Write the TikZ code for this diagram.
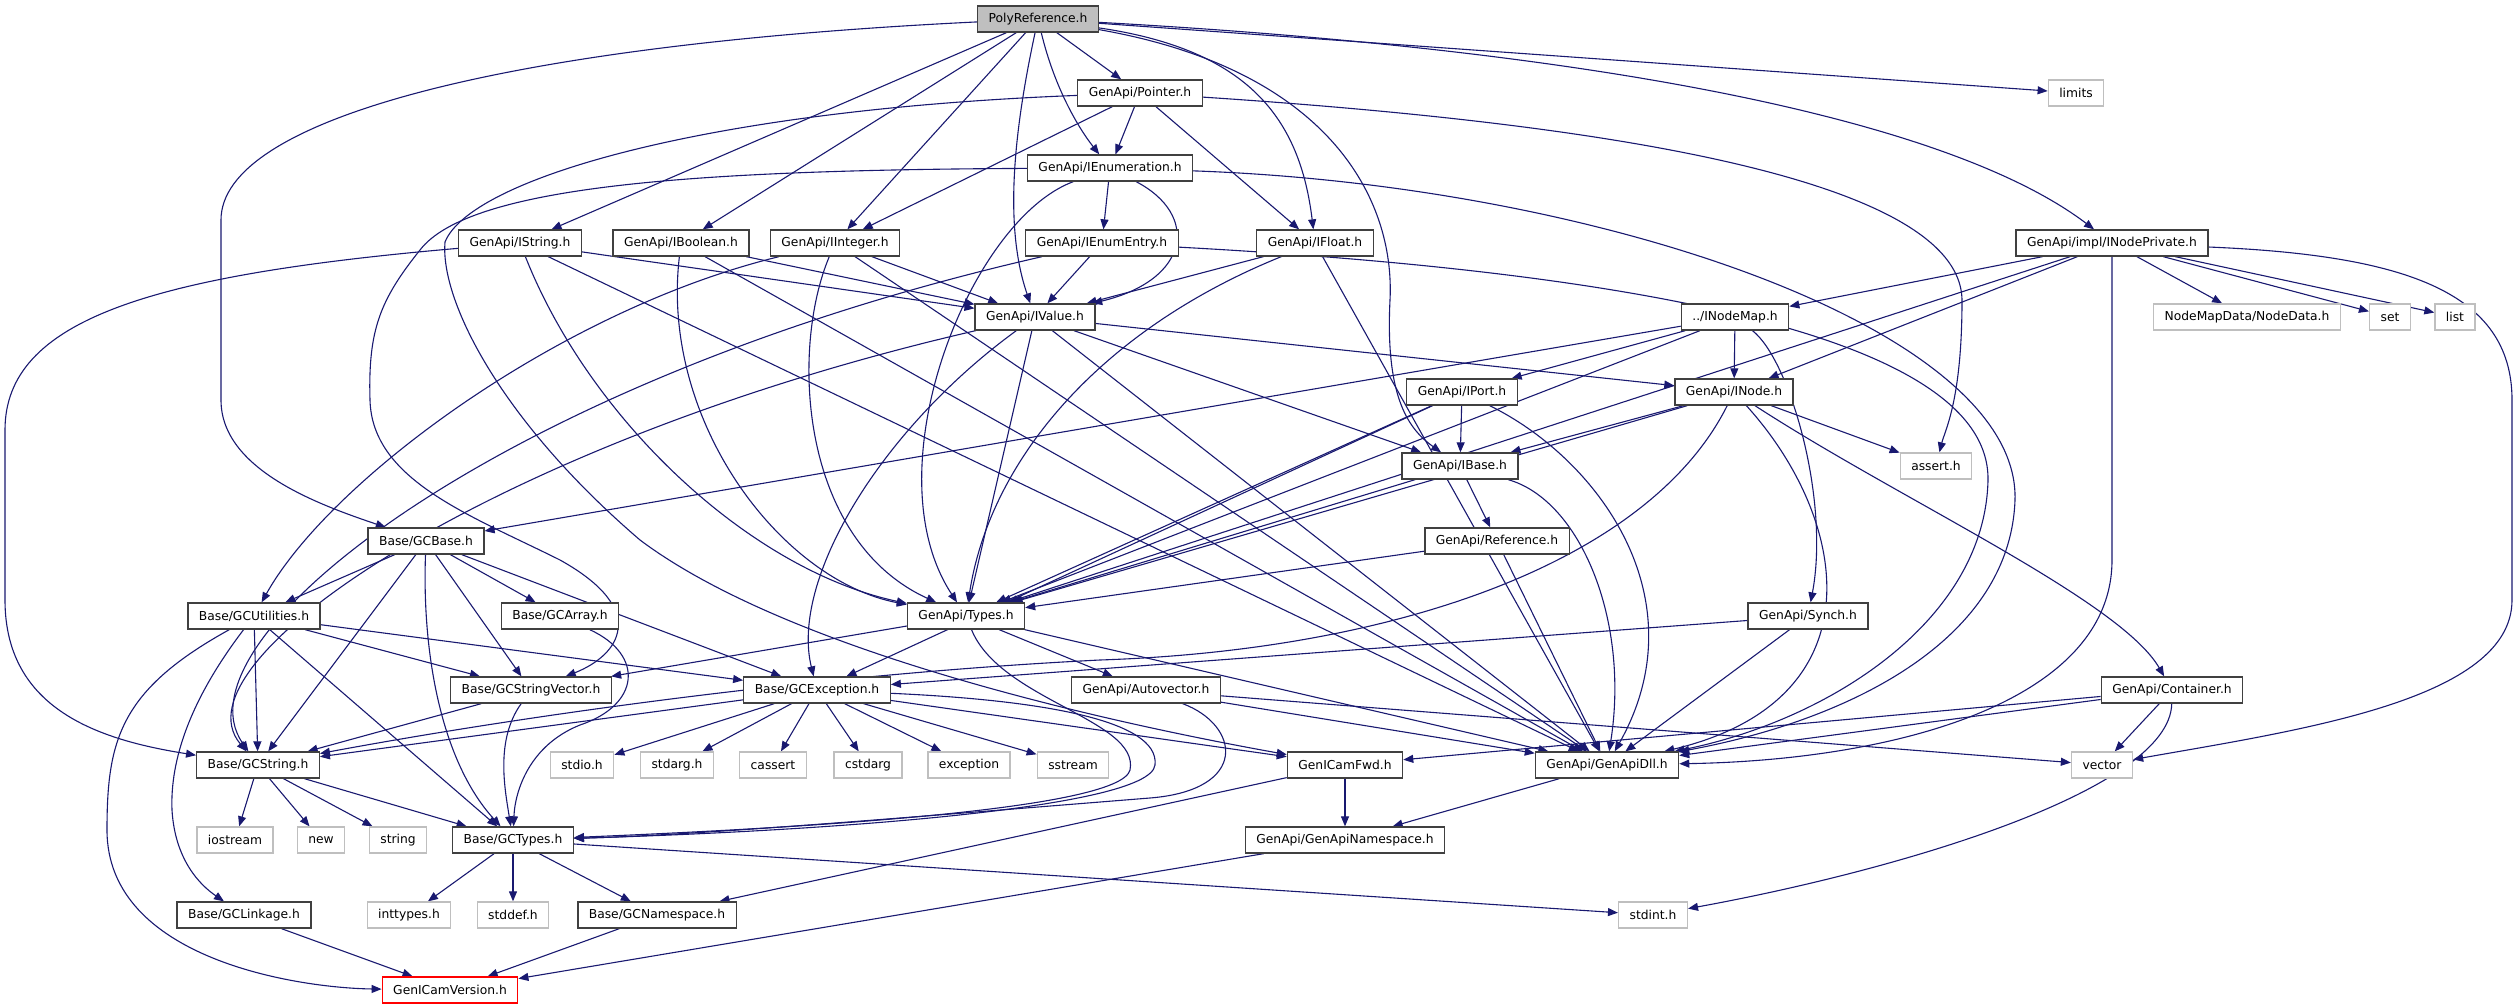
\documentclass[tikz,border=0pt]{standalone}
\usepackage{fontspec}
\setmainfont{DejaVu Sans}
\definecolor{dgEdge}{HTML}{191970}
\definecolor{dgBorder}{HTML}{404040}
\definecolor{dgSys}{HTML}{BFBFBF}
\definecolor{dgRoot}{HTML}{BFBFBF}
\usetikzlibrary{arrows.meta, backgrounds}

\begin{document}
\begin{tikzpicture}[x=1pt, y=-1pt,
  every node/.style={font=\fontsize{12.3}{14}\selectfont, align=center},
  hbox/.style={rectangle, draw=dgBorder, fill=white, line width=1.3pt,
               minimum height=26pt, inner xsep=11pt, inner ysep=0pt},
  sbox/.style={hbox, draw=dgSys},
  rbox/.style={hbox, fill=dgRoot},
  vbox/.style={hbox, draw=red},
  arr/.style={-{Triangle[length=10pt, width=8pt]}, line width=1.1pt, color=dgEdge}
]
  \useasboundingbox (0,0) rectangle (2519,1008);

  \node[rbox] (poly)       at (1038,19)  {PolyReference.h};
  \node[hbox] (pointer)    at (1140,93)  {GenApi/Pointer.h};
  \node[sbox] (limits)     at (2076,93)  {limits};
  \node[hbox] (ienum)      at (1110,168) {GenApi/IEnumeration.h};
  \node[hbox] (istring)    at (520,243)  {GenApi/IString.h};
  \node[hbox] (ibool)      at (681,243)  {GenApi/IBoolean.h};
  \node[hbox] (iint)       at (835,243)  {GenApi/IInteger.h};
  \node[hbox] (ienumentry) at (1102,243) {GenApi/IEnumEntry.h};
  \node[hbox] (ifloat)     at (1315,243) {GenApi/IFloat.h};
  \node[hbox] (inodepriv)  at (2112,243) {GenApi/impl/INodePrivate.h};
  \node[hbox] (ivalue)     at (1035,317) {GenApi/IValue.h};
  \node[hbox] (inodemap)   at (1735,317) {../INodeMap.h};
  \node[sbox] (nodedata)   at (2247,317) {NodeMapData/NodeData.h};
  \node[sbox] (set)        at (2390,317) {set};
  \node[sbox] (list)       at (2455,317) {list};
  \node[hbox] (iport)      at (1462,392) {GenApi/IPort.h};
  \node[hbox] (inode)      at (1734,392) {GenApi/INode.h};
  \node[hbox] (ibase)      at (1460,466) {GenApi/IBase.h};
  \node[sbox] (assert)     at (1936,466) {assert.h};
  \node[hbox] (gcbase)     at (426,541)  {Base/GCBase.h};
  \node[hbox] (reference)  at (1497,541) {GenApi/Reference.h};
  \node[hbox] (gcutil)     at (254,616)  {Base/GCUtilities.h};
  \node[hbox] (gcarray)    at (560,616)  {Base/GCArray.h};
  \node[hbox] (types)      at (966,616)  {GenApi/Types.h};
  \node[hbox] (synch)      at (1808,616) {GenApi/Synch.h};
  \node[hbox] (gcstrvec)   at (531,690)  {Base/GCStringVector.h};
  \node[hbox] (gcexc)      at (817,690)  {Base/GCException.h};
  \node[hbox] (autovec)    at (1146,690) {GenApi/Autovector.h};
  \node[hbox] (container)  at (2172,690) {GenApi/Container.h};
  \node[hbox] (gcstring)   at (258,765)  {Base/GCString.h};
  \node[sbox] (stdio)      at (582,765)  {stdio.h};
  \node[sbox] (stdarg)     at (677,765)  {stdarg.h};
  \node[sbox] (cassert)    at (773,765)  {cassert};
  \node[sbox] (cstdarg)    at (868,765)  {cstdarg};
  \node[sbox] (exception)  at (969,765)  {exception};
  \node[sbox] (sstream)    at (1073,765) {sstream};
  \node[hbox] (fwd)        at (1345,765) {GenICamFwd.h};
  \node[hbox] (dll)        at (1607,765) {GenApi/GenApiDll.h};
  \node[sbox] (vector)     at (2102,765) {vector};
  \node[sbox] (iostream)   at (235,840)  {iostream};
  \node[sbox] (new)        at (321,840)  {new};
  \node[sbox] (string)     at (398,840)  {string};
  \node[hbox] (gctypes)    at (513,840)  {Base/GCTypes.h};
  \node[hbox] (gans)       at (1345,840) {GenApi/GenApiNamespace.h};
  \node[hbox] (gclinkage)  at (244,915)  {Base/GCLinkage.h};
  \node[sbox] (inttypes)   at (409,915)  {inttypes.h};
  \node[sbox] (stddef)     at (513,915)  {stddef.h};
  \node[hbox] (gcns)       at (657,915)  {Base/GCNamespace.h};
  \node[sbox] (stdint)     at (1653,915) {stdint.h};
  \node[vbox] (version)    at (450,990)  {GenICamVersion.h};

  \begin{scope}[on background layer]
  \draw[arr] (poly) .. controls (500,45) and (221,120) .. (221,220) -- (221,400) .. controls (221,470) and (320,505) .. (gcbase);
  \draw[arr] (poly) -- (istring);
  \draw[arr] (poly) -- (ibool);
  \draw[arr] (poly) -- (iint);
  \draw[arr] (poly) .. controls (1012,140) and (1005,230) .. (ivalue);
  \draw[arr] (poly) .. controls (1055,90) and (1080,130) .. (ienum);
  \draw[arr] (poly) -- (pointer);
  \draw[arr] (poly) -- (limits);
  \draw[arr] (poly) .. controls (1250,50) and (1300,120) .. (ifloat);
  \draw[arr] (poly) .. controls (1330,70) and (1395,200) .. (1390,300) .. controls (1385,400) and (1410,430) .. (ibase);
  \draw[arr] (poly) .. controls (1600,50) and (1950,120) .. (inodepriv);

  \draw[arr] (pointer) -- (ienum);
  \draw[arr] (pointer) -- (iint);
  \draw[arr] (pointer) -- (ifloat);
  \draw[arr] (pointer) .. controls (1550,120) and (1960,170) .. (1962,300) .. controls (1962,400) and (1945,430) .. (assert);
  \draw[arr] (pointer) .. controls (700,110) and (470,180) .. (445,242) .. controls (440,300) and (500,420) .. (640,540) .. controls (800,660) and (1150,730) .. (fwd);

  \draw[arr] (ienum) -- (ienumentry);
  \draw[arr] (ienum) .. controls (1200,215) and (1190,280) .. (ivalue);
  \draw[arr] (ienum) .. controls (970,220) and (870,470) .. (types);
  \draw[arr] (ienum) .. controls (1600,185) and (2020,330) .. (2015,500) .. controls (2010,640) and (1850,720) .. (dll);
  \draw[arr] (ienum) .. controls (700,170) and (470,185) .. (420,250) .. controls (380,300) and (368,330) .. (370,400) .. controls (372,480) and (470,515) .. (560,560) .. controls (650,610) and (620,655) .. (gcstrvec);

  \draw[arr] (istring) .. controls (150,275) and (5,320) .. (5,430) -- (5,600) .. controls (5,710) and (100,740) .. (gcstring);
  \draw[arr] (istring) .. controls (590,420) and (750,570) .. (types);
  \draw[arr] (istring) -- (dll);
  \draw[arr] (istring) -- (ivalue);

  \draw[arr] (ibool) .. controls (660,420) and (780,580) .. (types);
  \draw[arr] (ibool) -- (dll);
  \draw[arr] (ibool) -- (ivalue);

  \draw[arr] (iint) .. controls (560,310) and (330,480) .. (gcutil);
  \draw[arr] (iint) .. controls (790,350) and (800,540) .. (types);
  \draw[arr] (iint) -- (dll);
  \draw[arr] (iint) -- (ivalue);

  \draw[arr] (ienumentry) -- (ivalue);
  \draw[arr] (ienumentry) .. controls (500,380) and (170,640) .. (gcstring);
  \draw[arr] (ienumentry) .. controls (1600,270) and (1990,330) .. (1988,480) .. controls (1985,620) and (1830,720) .. (dll);

  \draw[arr] (ifloat) -- (ivalue);
  \draw[arr] (ifloat) .. controls (1100,330) and (990,460) .. (types);
  \draw[arr] (ifloat) -- (dll);

  \draw[arr] (ivalue) .. controls (500,440) and (170,660) .. (gcstring);
  \draw[arr] (ivalue) .. controls (880,430) and (790,580) .. (gcexc);
  \draw[arr] (ivalue) -- (types);
  \draw[arr] (ivalue) -- (ibase);
  \draw[arr] (ivalue) -- (inode);
  \draw[arr] (ivalue) -- (dll);

  \draw[arr] (inodepriv) -- (inodemap);
  \draw[arr] (inodepriv) -- (nodedata);
  \draw[arr] (inodepriv) -- (set);
  \draw[arr] (inodepriv) -- (list);
  \draw[arr] (inodepriv) -- (inode);
  \draw[arr] (inodepriv) -- (types);
  \draw[arr] (inodepriv) -- (2112,560) .. controls (2112,700) and (1900,760) .. (dll);
  \draw[arr] (inodepriv) .. controls (2400,255) and (2512,290) .. (2512,400) -- (2512,600) .. controls (2512,700) and (2300,730) .. (vector);

  \draw[arr] (inodemap) -- (gcbase);
  \draw[arr] (inodemap) -- (types);
  \draw[arr] (inodemap) -- (iport);
  \draw[arr] (inodemap) -- (inode);
  \draw[arr] (inodemap) .. controls (1790,360) and (1830,500) .. (synch);

  \draw[arr] (iport) -- (ibase);
  \draw[arr] (iport) -- (types);
  \draw[arr] (iport) -- (gcexc);
  \draw[arr] (iport) .. controls (1600,460) and (1700,600) .. (dll);

  \draw[arr] (inode) -- (ibase);
  \draw[arr] (inode) -- (types);
  \draw[arr] (inode) .. controls (1650,560) and (1400,650) .. (1100,660) .. controls (800,675) and (500,720) .. (gcstring);
  \draw[arr] (inode) .. controls (1850,520) and (1880,700) .. (dll);
  \draw[arr] (inode) .. controls (1900,500) and (2120,600) .. (container);
  \draw[arr] (inode) -- (assert);

  \draw[arr] (ibase) -- (types);
  \draw[arr] (ibase) -- (reference);
  \draw[arr] (ibase) .. controls (1580,500) and (1630,620) .. (dll);

  \draw[arr] (reference) -- (types);
  \draw[arr] (reference) -- (dll);

  \draw[arr] (synch) -- (gcexc);
  \draw[arr] (synch) -- (dll);

  \draw[arr] (gcbase) -- (gcutil);
  \draw[arr] (gcbase) -- (gcstring);
  \draw[arr] (gcbase) .. controls (422,650) and (440,760) .. (gctypes);
  \draw[arr] (gcbase) -- (gcstrvec);
  \draw[arr] (gcbase) -- (gcarray);
  \draw[arr] (gcbase) -- (gcexc);

  \draw[arr] (gcutil) -- (gcstring);
  \draw[arr] (gcutil) -- (gctypes);
  \draw[arr] (gcutil) -- (gcstrvec);
  \draw[arr] (gcutil) -- (gcexc);
  \draw[arr] (gcutil) .. controls (190,700) and (170,760) .. (172,810) .. controls (175,860) and (200,885) .. (gclinkage);
  \draw[arr] (gcutil) .. controls (120,690) and (107,740) .. (107,830) .. controls (107,960) and (300,988) .. (version);

  \draw[arr] (gcarray) .. controls (645,655) and (640,705) .. (580,725) .. controls (530,745) and (515,790) .. (gctypes);

  \draw[arr] (gcstrvec) -- (gcstring);
  \draw[arr] (gcstrvec) .. controls (495,740) and (505,790) .. (gctypes);

  \draw[arr] (types) -- (gcstrvec);
  \draw[arr] (types) .. controls (1000,700) and (1140,720) .. (1130,770) .. controls (1120,810) and (800,828) .. (gctypes);
  \draw[arr] (types) -- (autovec);
  \draw[arr] (types) -- (dll);

  \draw[arr] (gcexc) -- (gcstring);
  \draw[arr] (gcexc) .. controls (1040,700) and (1160,720) .. (1155,765) .. controls (1150,810) and (800,832) .. (gctypes);
  \draw[arr] (gcexc) -- (fwd);
  \draw[arr] (gcexc) -- (stdio);
  \draw[arr] (gcexc) -- (stdarg);
  \draw[arr] (gcexc) -- (cassert);
  \draw[arr] (gcexc) -- (cstdarg);
  \draw[arr] (gcexc) -- (exception);
  \draw[arr] (gcexc) -- (sstream);

  \draw[arr] (autovec) .. controls (1240,725) and (1250,790) .. (1150,798) .. controls (900,818) and (700,835) .. (gctypes);
  \draw[arr] (autovec) -- (dll);
  \draw[arr] (autovec) -- (vector);

  \draw[arr] (container) -- (fwd);
  \draw[arr] (container) -- (dll);
  \draw[arr] (container) -- (vector);
  \draw[arr] (container) .. controls (2170,790) and (1900,870) .. (stdint);

  \draw[arr] (gcstring) -- (iostream);
  \draw[arr] (gcstring) -- (new);
  \draw[arr] (gcstring) -- (string);
  \draw[arr] (gcstring) -- (gctypes);

  \draw[arr] (gctypes) -- (inttypes);
  \draw[arr] (gctypes) -- (stddef);
  \draw[arr] (gctypes) -- (gcns);
  \draw[arr] (gctypes) -- (stdint);

  \draw[arr] (gclinkage) -- (version);
  \draw[arr] (gcns) -- (version);
  \draw[arr] (fwd) -- (gans);
  \draw[arr] (fwd) -- (gcns);
  \draw[arr] (dll) -- (gans);
  \draw[arr] (gans) -- (version);
  \end{scope}
\end{tikzpicture}
\end{document}
